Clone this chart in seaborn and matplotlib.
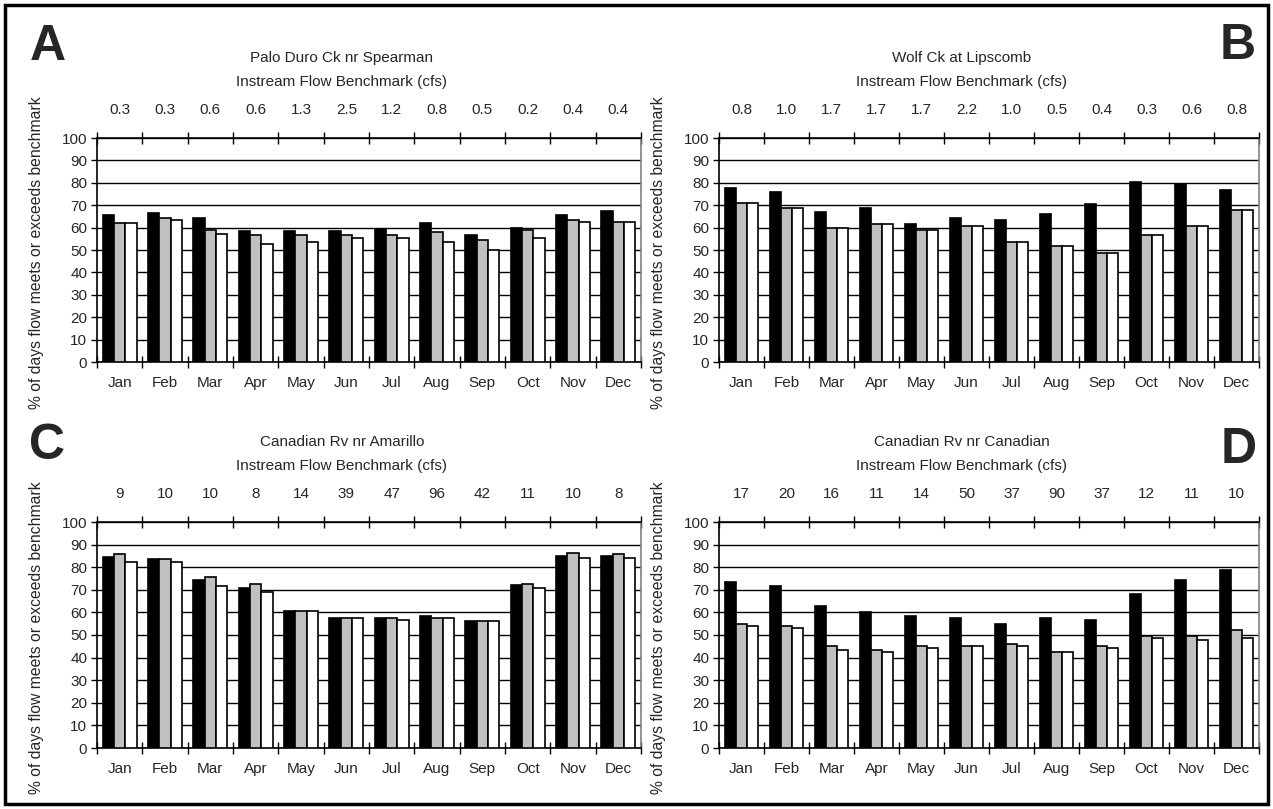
import numpy as np
import pandas as pd
import matplotlib
matplotlib.use("Agg")
import matplotlib.pyplot as plt
import seaborn as sns
from matplotlib.patches import Rectangle

months = ["Jan", "Feb", "Mar", "Apr", "May", "Jun",
          "Jul", "Aug", "Sep", "Oct", "Nov", "Dec"]
series_names = ["Series 1", "Series 2", "Series 3"]
series_colors = ["#000000", "#c0c0c0", "#ffffff"]
subtitle = "Instream Flow Benchmark (cfs)"
ylabel = "% of days flow meets or exceeds benchmark"

# Palo Duro Ck nr Spearman
a_title = "Palo Duro Ck nr Spearman"
a_bench = ["0.3", "0.3", "0.6", "0.6", "1.3", "2.5", "1.2", "0.8", "0.5", "0.2", "0.4", "0.4"]
a_s1 = [65.5, 66.5, 64.5, 58.5, 58.5, 58.5, 59.5, 62.0, 56.5, 60.0, 65.5, 67.5]
a_s2 = [62.0, 64.5, 59.0, 56.5, 56.5, 56.5, 56.5, 58.0, 54.5, 59.0, 63.5, 62.5]
a_s3 = [62.0, 63.5, 57.0, 52.5, 53.5, 55.5, 55.5, 53.5, 50.0, 55.5, 62.5, 62.5]

# Wolf Ck at Lipscomb
b_title = "Wolf Ck at Lipscomb"
b_bench = ["0.8", "1.0", "1.7", "1.7", "1.7", "2.2", "1.0", "0.5", "0.4", "0.3", "0.6", "0.8"]
b_s1 = [77.7, 76.0, 67.0, 68.8, 61.7, 64.4, 63.5, 66.2, 70.6, 80.4, 79.5, 76.9]
b_s2 = [71.2, 68.7, 59.6, 61.6, 58.9, 60.5, 53.4, 51.6, 48.8, 56.8, 60.5, 67.7]
b_s3 = [71.2, 68.7, 59.6, 61.6, 58.9, 60.5, 53.4, 51.6, 48.8, 56.8, 60.5, 67.7]

# Canadian Rv nr Amarillo
c_title = "Canadian Rv nr Amarillo"
c_bench = ["9", "10", "10", "8", "14", "39", "47", "96", "42", "11", "10", "8"]
c_s1 = [84.5, 83.5, 74.5, 71.0, 60.5, 57.5, 57.5, 58.5, 56.0, 72.0, 85.0, 85.0]
c_s2 = [86.0, 83.5, 75.5, 72.5, 60.5, 57.5, 57.5, 57.5, 56.0, 72.5, 86.5, 86.0]
c_s3 = [82.5, 82.5, 71.5, 69.0, 60.5, 57.5, 56.5, 57.5, 56.0, 71.0, 84.0, 84.0]

# Canadian Rv nr Canadian
d_title = "Canadian Rv nr Canadian"
d_bench = ["17", "20", "16", "11", "14", "50", "37", "90", "37", "12", "11", "10"]
d_s1 = [73.5, 71.8, 62.9, 60.3, 58.5, 57.6, 54.9, 57.6, 56.8, 68.2, 74.4, 78.8]
d_s2 = [54.7, 53.8, 45.1, 43.4, 45.1, 45.1, 46.0, 42.5, 45.1, 49.6, 49.6, 52.2]
d_s3 = [53.8, 52.9, 43.4, 42.5, 44.3, 45.1, 45.1, 42.5, 44.3, 48.7, 47.8, 48.7]

sns.set_theme(style="white")
plt.rcParams["font.family"] = ["Liberation Sans", "DejaVu Sans"]
plt.rcParams["font.size"] = 11

W, H = 1273, 809
fig = plt.figure(figsize=(W / 100, H / 100), dpi=100)
fig.patch.set_facecolor("white")

FS = 11


def px_rect(left, top, right, bottom):
    return [left / W, 1 - bottom / H, (right - left) / W, (bottom - top) / H]


def draw_panel(rect, title, bench, s1, s2, s3):
    ax = fig.add_axes(rect)
    df = pd.DataFrame({
        "month": months * 3,
        "series": [n for n in series_names for _ in months],
        "pct": list(s1) + list(s2) + list(s3),
    })
    sns.barplot(data=df, x="month", y="pct", hue="series", order=months,
                hue_order=series_names, palette=series_colors, saturation=1,
                width=0.75, edgecolor="black", linewidth=1.2, errorbar=None,
                legend=False, ax=ax, zorder=3)
    ax.set_xlim(-0.5, 11.5)
    ax.set_ylim(0, 100)
    ax.set_yticks(np.arange(0, 101, 10))
    ax.yaxis.grid(True, color="black", linewidth=1.0, zorder=0)
    ax.xaxis.grid(False)
    ax.set_axisbelow(True)

    # boundary ticks between months, month names centred under bars
    ax.set_xticks(np.arange(-0.5, 12, 1))
    ax.set_xticklabels([""] * 13)
    ax.set_xticks(np.arange(12), minor=True)
    ax.set_xticklabels(months, minor=True)
    ax.tick_params(axis="x", which="major", direction="inout", length=8,
                   width=1, color="black", bottom=True, top=True)
    ax.tick_params(axis="x", which="minor", length=0, pad=10, labelsize=FS)
    ax.tick_params(axis="y", direction="out", length=4, width=1,
                   color="black", left=True, pad=3, labelsize=FS)
    ax.set_xlabel("")
    ax.set_ylabel(ylabel, fontsize=11.3)
    ax.yaxis.set_label_coords(-0.098, 0.49)

    # benchmark values along the top
    sec = ax.secondary_xaxis("top")
    sec.set_xticks(np.arange(12))
    sec.set_xticklabels(bench)
    sec.tick_params(length=0, pad=15, labelsize=FS)
    sec.spines["top"].set_visible(False)

    for side in ["left", "bottom", "top"]:
        ax.spines[side].set_color("black")
        ax.spines[side].set_linewidth(1.2)
    ax.spines["right"].set_color("#808080")
    ax.spines["right"].set_linewidth(1.2)

    ax.annotate(title, xy=(0.45, 1), xycoords="axes fraction",
                xytext=(0, 80), textcoords="offset pixels",
                ha="center", va="center", fontsize=FS)
    ax.annotate(subtitle, xy=(0.45, 1), xycoords="axes fraction",
                xytext=(0, 56), textcoords="offset pixels",
                ha="center", va="center", fontsize=FS)
    return ax


draw_panel(px_rect(97, 138, 641, 362), a_title, a_bench, a_s1, a_s2, a_s3)
draw_panel(px_rect(719, 138, 1259, 362), b_title, b_bench, b_s1, b_s2, b_s3)
draw_panel(px_rect(97, 522, 641, 748), c_title, c_bench, c_s1, c_s2, c_s3)
draw_panel(px_rect(719, 522, 1259, 748), d_title, d_bench, d_s1, d_s2, d_s3)

# panel letters
for letter, (x, y) in {"A": (48, 47), "B": (1238, 46),
                       "C": (47, 446), "D": (1239, 450)}.items():
    fig.text(x / W, 1 - y / H, letter, ha="center", va="center",
             fontsize=36, fontweight="bold")

# frame around the whole figure
fig.add_artist(Rectangle((5 / W, 5 / H), 1 - 10 / W, 1 - 10 / H,
                         transform=fig.transFigure, fill=False,
                         edgecolor="black", linewidth=2.5))

fig.savefig("out.png", dpi=100, facecolor="white")
